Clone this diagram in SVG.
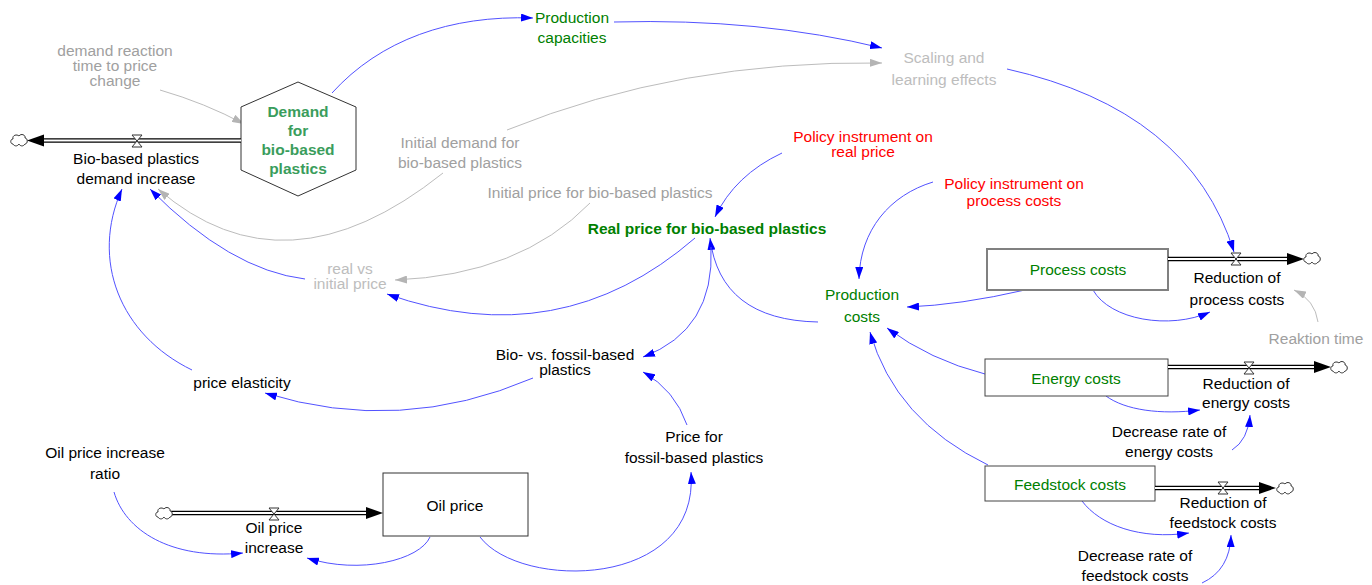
<svg xmlns="http://www.w3.org/2000/svg" width="1372" height="585" viewBox="0 0 1372 585">
<style>
text{font-family:"Liberation Sans",Arial,sans-serif;font-size:15.5px;text-anchor:middle;fill:#000}
.g{fill:#008000}
.hg{fill:#3a9d5c;font-weight:bold}
.bg{fill:#008000;font-weight:bold}
.r{fill:#ff0000}
.gr{fill:#a0a0a0}
.lg{fill:#bdbdbd}
.c{fill:none;stroke:#5252ff;stroke-width:1}
.cg{fill:none;stroke:#bcbcbc;stroke-width:1}
.po{fill:none;stroke:#000;stroke-width:4.5}
.pi{fill:none;stroke:#fff;stroke-width:2}
.box{fill:#fff;stroke:#444;stroke-width:1}
</style>
<defs>
<marker id="ab" viewBox="0 0 12 8" refX="12" refY="4" markerWidth="12" markerHeight="8" orient="auto" markerUnits="userSpaceOnUse"><path d="M0,0L12,4L0,8z" fill="#0000ff"/></marker>
<marker id="ag" viewBox="0 0 12 8" refX="12" refY="4" markerWidth="12" markerHeight="8" orient="auto" markerUnits="userSpaceOnUse"><path d="M0,0L12,4L0,8z" fill="#b4b4b4"/></marker>
<path id="cloud" d="M-6,4 C-9,4 -9,-1 -6,-1 C-7,-5 -2,-6 0,-4 C2,-7 7,-5 6,-2 C9,-2 9,4 6,4 C4,7 1,6 0,4 C-2,7 -5,6 -6,4 Z" fill="#fff" stroke="#333" stroke-width="1"/>
<path id="valve" d="M-5,-6H5L-5,6H5Z" fill="#fff" stroke="#333" stroke-width="1"/>
</defs>

<g id="connectors">
<path class="c" marker-end="url(#ab)" d="M332,93 C380,40 450,15 533,18"/>
<path class="c" marker-end="url(#ab)" d="M614,22 Q760,18 882,48"/>
<path class="cg" marker-end="url(#ag)" d="M507,130 Q680,60 882,63"/>
<path class="c" marker-end="url(#ab)" d="M1007,69 Q1190,110 1234,252"/>
<path class="c" marker-end="url(#ab)" d="M782,153 Q735,175 715,217"/>
<path class="c" marker-end="url(#ab)" d="M933,182 C890,195 860,230 859,279"/>
<path class="c" marker-end="url(#ab)" d="M695,238 Q560,355 387,294"/>
<path class="cg" marker-end="url(#ag)" d="M590,203 Q520,275 395,280"/>
<path class="c" marker-end="url(#ab)" d="M818,322 Q720,320 710,238"/>
<path class="c" marker-end="url(#ab)" d="M711,247 Q715,330 643,357"/>
<path class="c" marker-end="url(#ab)" d="M687,425 Q675,390 643,372"/>
<path class="c" marker-end="url(#ab)" d="M533,378 Q400,435 265,393"/>
<path class="c" marker-end="url(#ab)" d="M192,370 C120,335 90,260 122,189"/>
<path class="c" marker-end="url(#ab)" d="M305,279 Q230,270 150,189"/>
<path class="cg" marker-end="url(#ag)" d="M443,173 Q285,299 158,189"/>
<path class="cg" marker-end="url(#ag)" d="M160,90 Q205,103 244,124"/>
<path class="c" marker-end="url(#ab)" d="M1025,290 Q960,305 907,307"/>
<path class="c" marker-end="url(#ab)" d="M1093,290 C1110,320 1170,330 1210,312"/>
<path class="c" marker-end="url(#ab)" d="M985,374 Q930,360 887,328"/>
<path class="c" marker-end="url(#ab)" d="M1106,396 C1125,410 1160,415 1200,410"/>
<path class="c" marker-end="url(#ab)" d="M988,465 Q895,420 870,332"/>
<path class="c" marker-end="url(#ab)" d="M1082,501 C1100,525 1140,540 1189,533"/>
<path class="c" marker-end="url(#ab)" d="M1232,450 Q1248,440 1250,415"/>
<path class="c" marker-end="url(#ab)" d="M1202,583 Q1230,570 1231,535"/>
<path class="cg" marker-end="url(#ag)" d="M1318,322 Q1315,300 1294,290"/>
<path class="c" marker-end="url(#ab)" d="M114,492 C125,530 170,560 243,553"/>
<path class="c" marker-end="url(#ab)" d="M430,537 C420,560 360,575 307,558"/>
<path class="c" marker-end="url(#ab)" d="M480,537 C520,590 700,590 691,472"/>
</g>

<g id="demand-reaction-time">
<text class="gr" x="115" y="56">demand reaction</text>
<text class="gr" x="115" y="71">time to price</text>
<text class="gr" x="115" y="86">change</text>
</g>

<g id="demand-stock">
<polygon points="298,82 356,107 356,170 298,196 241,170 241,107" fill="#fff" stroke="#333" stroke-width="1"/>
<text class="hg" x="298" y="117">Demand</text>
<text class="hg" x="298" y="136">for</text>
<text class="hg" x="298" y="155">bio-based</text>
<text class="hg" x="298" y="174">plastics</text>
</g>

<g id="demand-increase-flow">
<path class="po" d="M241,140.5H43"/>
<path class="pi" d="M241,140.5H43"/>
<polygon points="27,140.5 44,134.5 44,146.5" fill="#000"/>
<use href="#cloud" x="19" y="140"/>
<use href="#valve" x="137" y="141"/>
<text x="136" y="164">Bio-based plastics</text>
<text x="136" y="184">demand increase</text>
</g>

<g id="production-capacities">
<text class="g" x="572" y="23">Production</text>
<text class="g" x="572" y="43">capacities</text>
</g>

<g id="scaling-learning">
<text class="lg" x="944" y="63">Scaling and</text>
<text class="lg" x="944" y="85">learning effects</text>
</g>

<g id="initial-demand">
<text class="gr" x="460" y="148">Initial demand for</text>
<text class="gr" x="460" y="168">bio-based plastics</text>
</g>

<g id="policy-real-price">
<text class="r" x="863" y="142">Policy instrument on</text>
<text class="r" x="863" y="157">real price</text>
</g>

<g id="initial-price">
<text class="gr" x="600" y="198">Initial price for bio-based plastics</text>
</g>

<g id="policy-process-costs">
<text class="r" x="1014" y="189">Policy instrument on</text>
<text class="r" x="1014" y="206">process costs</text>
</g>

<g id="real-price">
<text class="bg" x="707" y="234">Real price for bio-based plastics</text>
</g>

<g id="real-vs-initial">
<text class="lg" x="350" y="273.5">real vs</text>
<text class="lg" x="350" y="288.5">initial price</text>
</g>

<g id="production-costs">
<text class="g" x="862" y="300">Production</text>
<text class="g" x="862" y="322">costs</text>
</g>

<g id="process-costs">
<rect x="987" y="249" width="181" height="41" fill="#fff" stroke="#808080" stroke-width="2"/>
<text class="g" x="1078" y="275">Process costs</text>
</g>

<g id="process-reduction-flow">
<path class="po" d="M1168,259H1288"/>
<path class="pi" d="M1168,259H1288"/>
<polygon points="1304,259 1287,253 1287,265" fill="#000"/>
<use href="#cloud" x="1312" y="258"/>
<use href="#valve" x="1236" y="259"/>
<text x="1237" y="283">Reduction of</text>
<text x="1237" y="305">process costs</text>
</g>

<g id="reaktion-time">
<text class="gr" x="1316" y="344">Reaktion time</text>
</g>

<g id="bio-vs-fossil">
<text x="565" y="360">Bio- vs. fossil-based</text>
<text x="565" y="375">plastics</text>
</g>

<g id="price-elasticity">
<text x="242" y="388">price elasticity</text>
</g>

<g id="energy-costs">
<rect x="985" y="359" width="183" height="37" class="box"/>
<text class="g" x="1076" y="384">Energy costs</text>
</g>

<g id="energy-reduction-flow">
<path class="po" d="M1168,367H1315"/>
<path class="pi" d="M1168,367H1315"/>
<polygon points="1331,367 1314,361 1314,373" fill="#000"/>
<use href="#cloud" x="1339" y="367"/>
<use href="#valve" x="1249" y="368"/>
<text x="1246" y="389">Reduction of</text>
<text x="1246" y="408">energy costs</text>
</g>

<g id="decrease-energy">
<text x="1169" y="437">Decrease rate of</text>
<text x="1169" y="457">energy costs</text>
</g>

<g id="feedstock-costs">
<rect x="985" y="466" width="170" height="35" class="box"/>
<text class="g" x="1070" y="490">Feedstock costs</text>
</g>

<g id="feedstock-reduction-flow">
<path class="po" d="M1155,488H1260"/>
<path class="pi" d="M1155,488H1260"/>
<polygon points="1276,488 1259,482 1259,494" fill="#000"/>
<use href="#cloud" x="1285" y="488"/>
<use href="#valve" x="1223" y="488"/>
<text x="1223" y="508">Reduction of</text>
<text x="1223" y="528">feedstock costs</text>
</g>

<g id="decrease-feedstock">
<text x="1135" y="561">Decrease rate of</text>
<text x="1135" y="581">feedstock costs</text>
</g>

<g id="oil-price-ratio">
<text x="105" y="458">Oil price increase</text>
<text x="105" y="479">ratio</text>
</g>

<g id="price-fossil">
<text x="694" y="442">Price for</text>
<text x="694" y="463">fossil-based plastics</text>
</g>

<g id="oil-price">
<rect x="383" y="473" width="145" height="63" fill="#fff" stroke="#333" stroke-width="1"/>
<text x="455" y="511">Oil price</text>
</g>

<g id="oil-price-increase-flow">
<path class="po" d="M171,513H367"/>
<path class="pi" d="M171,513H367"/>
<polygon points="383,513 366,507 366,519" fill="#000"/>
<use href="#cloud" x="164" y="513"/>
<use href="#valve" x="274" y="514"/>
<text x="274" y="533">Oil price</text>
<text x="274" y="553">increase</text>
</g>
</svg>
